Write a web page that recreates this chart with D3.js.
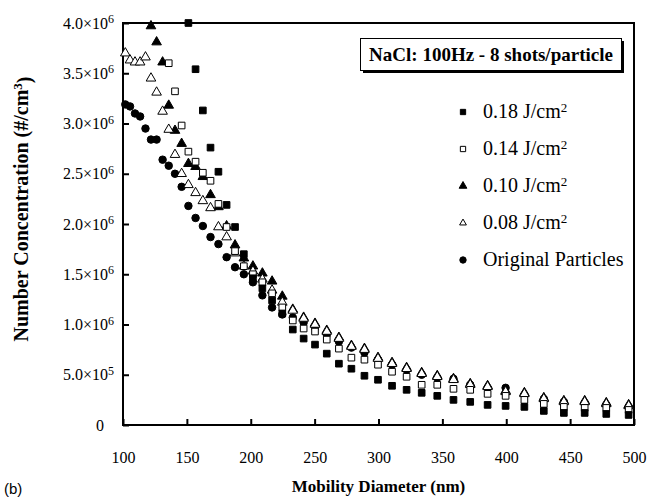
<!DOCTYPE html>
<html>
<head>
<meta charset="utf-8">
<script src="https://cdn.jsdelivr.net/npm/d3@7"></script>
<style>
  body { margin: 0; background: #fff; }
  svg { display: block; }
</style>
</head>
<body>
<svg id="chart" width="652" height="504"></svg>
<script>
// SMPS channel midpoints (nm)
const DIAMETERS = [
  101.8, 105.5, 109.4, 113.4, 117.6, 121.9, 126.3, 131.0, 135.8, 140.7,
  145.9, 151.2, 156.8, 162.5, 168.5, 174.7, 181.1, 187.7, 194.6, 201.7,
  209.1, 216.7, 224.7, 232.9, 241.4, 250.3, 259.5, 269.0, 278.8, 289.0,
  299.6, 310.6, 322.0, 333.8, 346.0, 358.7, 371.8, 385.4, 399.5, 414.2,
  429.4, 445.1, 461.4, 478.3, 495.8
]

// number concentration, x10^6 #/cm3 (null = off the top of the chart)
const ORIGINAL = [
  3.19, 3.17, 3.10, 3.07, 2.95, 2.84, 2.84, 2.64, 2.58, 2.50,
  2.37, 2.18, 2.06, 1.98, 1.87, 1.80, 1.67, 1.57, 1.50, 1.42,
  1.29, 1.17, 1.10, 1.07, 1.02, 0.97, 0.90, 0.83, 0.77, 0.72,
  0.65, 0.60, 0.55, 0.50, 0.47, 0.46, 0.40, 0.37, 0.37, 0.30,
  0.26, 0.23, 0.22, 0.20, 0.18
]
const F008 = [
  3.70, 3.63, 3.61, 3.61, 3.66, 3.45, 3.31, 3.12, 2.94, 2.69,
  2.50, 2.39, 2.31, 2.23, 2.16, 1.97, 1.87, 1.71, 1.58, 1.53,
  1.45, 1.34, 1.22, 1.14, 1.06, 1.00, 0.93, 0.86, 0.78, 0.75,
  0.66, 0.61, 0.56, 0.51, 0.48, 0.45, 0.40, 0.38, 0.33, 0.31,
  0.26, 0.23, 0.23, 0.21, 0.19
]
const F010 = [
  null, null, null, null, null, 3.97, 3.81, 3.61, 3.18, 2.93,
  2.80, 2.60, 2.57, 2.47, 2.29, 2.17, 1.98, 1.79, 1.66, 1.58,
  1.51, 1.43, 1.28, 1.15, 1.07, 1.01, 0.94, 0.87, 0.79, 0.76,
  0.67, 0.62, 0.57, 0.52, 0.49, 0.46, 0.41, 0.39, 0.34, 0.32,
  0.27, 0.24, 0.24, 0.22, 0.20
]
const F014 = [
  null, null, null, null, null, null, null, null, 3.60, 3.32,
  2.98, 2.72, 2.62, 2.51, 2.43, 2.20, 1.97, 1.73, 1.58, 1.50,
  1.42, 1.31, 1.17, 1.04, 0.96, 0.93, 0.85, 0.76, 0.67, 0.65,
  0.60, 0.53, 0.48, 0.40, 0.40, 0.36, 0.35, 0.31, 0.29, 0.25,
  0.21, 0.18, 0.17, 0.17, 0.15
]
const F018 = [
  null, null, null, null, null, null, null, null, null, null,
  null, 4.00, 3.54, 3.13, 2.76, 2.52, 2.19, 1.97, 1.70, 1.46,
  1.36, 1.24, 1.11, 0.95, 0.86, 0.80, 0.71, 0.61, 0.56, 0.49,
  0.45, 0.39, 0.35, 0.32, 0.29, 0.25, 0.23, 0.20, 0.19, 0.18,
  0.14, 0.12, 0.12, 0.11, 0.10
]

const X_TICKS = [100, 150, 200, 250, 300, 350, 400, 450, 500]
const Y_TICKS = [0, 0.5, 1, 1.5, 2, 2.5, 3, 3.5, 4]
const LEGEND_LABELS = ['0.18 J/cm', '0.14 J/cm', '0.10 J/cm', '0.08 J/cm', 'Original Particles']

const SERIF = "'Liberation Serif', 'Times New Roman', serif"

const SERIES = [
  { values: F018, shape: d3.symbolSquare, fill: '#000', size: 44, legendSize: 28 },
  { values: F014, shape: d3.symbolSquare, fill: '#fff', size: 44, legendSize: 28 },
  { values: F010, shape: d3.symbolTriangle, fill: '#000', size: 40, legendSize: 26 },
  { values: F008, shape: d3.symbolTriangle, fill: '#fff', size: 40, legendSize: 20 },
  { values: ORIGINAL, shape: d3.symbolCircle, fill: '#000', size: 44, legendSize: 32 }
]
SERIES.forEach((s, i) => { s.label = LEGEND_LABELS[i] })

const svg = d3.select('#chart')
  .attr('font-family', SERIF)

const x = d3.scaleLinear().domain([100, 500]).range([123, 634])
const y = d3.scaleLinear().domain([0, 4]).range([425, 23])

// x axis
svg.append('g')
  .attr('transform', `translate(0,${y(0)})`)
  .call(d3.axisBottom(x).tickValues(X_TICKS).tickSizeInner(-6).tickSizeOuter(0).tickPadding(27))
  .attr('font-family', SERIF)
  .attr('font-size', 16)
  .call(g => g.select('.domain').remove())
  .call(g => g.selectAll('.tick line').attr('stroke-width', 2))

// y axis, labels like 3.5x10^6
svg.append('g')
  .attr('transform', `translate(${x(100)},0)`)
  .call(d3.axisLeft(y).tickValues(Y_TICKS).tickSizeInner(-6).tickSizeOuter(0).tickPadding(19))
  .attr('font-family', SERIF)
  .attr('font-size', 16)
  .call(g => g.select('.domain').remove())
  .call(g => g.selectAll('.tick line').attr('stroke-width', 2))
  .call(g => g.selectAll('.tick text').each(function (v) {
    const t = d3.select(this).text(null)
    if (v === 0) { t.text('0'); return }
    const [m, e] = v < 1 ? [v * 10, 5] : [v, 6]
    t.attr('x', -9)
    t.append('tspan').text(`${m.toFixed(1)}×10`)
    t.append('tspan').attr('dy', '-0.45em').attr('font-size', 12).text(e)
  }))

// frame
svg.append('rect')
  .attr('x', x(100)).attr('y', y(4))
  .attr('width', x(500) - x(100)).attr('height', y(0) - y(4))
  .attr('fill', 'none').attr('stroke', '#000').attr('stroke-width', 2)

// markers, original particles drawn first so the others sit on top
const drawOrder = [4, 2, 3, 1, 0]
drawOrder.forEach(i => {
  const s = SERIES[i]
  const pts = DIAMETERS.map((d, k) => [d, s.values[k]]).filter(p => p[1] != null)
  svg.append('g')
    .selectAll('path')
    .data(pts)
    .join('path')
    .attr('transform', p => `translate(${x(p[0])},${y(p[1])})`)
    .attr('d', d3.symbol(s.shape, s.size))
    .attr('fill', s.fill)
    .attr('stroke', '#000')
    .attr('stroke-width', 1)
})

// title box with shadow
const box = svg.append('g')
box.append('rect').attr('x', 363).attr('y', 41).attr('width', 261).attr('height', 32).attr('fill', '#000')
box.append('rect').attr('x', 360.5).attr('y', 38.5).attr('width', 261).attr('height', 32)
  .attr('fill', '#fff').attr('stroke', '#000')
box.append('text')
  .attr('x', 491).attr('y', 61)
  .attr('text-anchor', 'middle')
  .attr('font-weight', 'bold')
  .attr('font-size', 19)
  .text('NaCl: 100Hz - 8 shots/particle')

// legend
const legend = svg.append('g')
SERIES.forEach((s, i) => {
  const ly = 112 + i * 37
  legend.append('path')
    .attr('transform', `translate(463,${ly})`)
    .attr('d', d3.symbol(s.shape, s.legendSize))
    .attr('fill', s.fill)
    .attr('stroke', '#000')
  const t = legend.append('text')
    .attr('x', 483).attr('y', ly + 6)
    .attr('font-size', 20)
  t.append('tspan').text(s.label)
  if (i < 4) t.append('tspan').attr('dy', '-0.5em').attr('font-size', 13).text('2')
})

// axis titles
const yt = svg.append('text')
  .attr('transform', `translate(28,209) rotate(-90)`)
  .attr('text-anchor', 'middle')
  .attr('font-weight', 'bold')
  .attr('font-size', 20)
yt.append('tspan').text('Number Concentration (#/cm')
yt.append('tspan').attr('dy', '-0.45em').attr('font-size', 13).text('3')
yt.append('tspan').attr('dy', '0.45em').text(')')

svg.append('text')
  .attr('x', (x(100) + x(500)) / 2).attr('y', 492)
  .attr('text-anchor', 'middle')
  .attr('font-weight', 'bold')
  .attr('font-size', 17)
  .text('Mobility Diameter (nm)')

svg.append('text')
  .attr('x', 4).attr('y', 494)
  .attr('font-family', "'Liberation Sans', Arial, sans-serif")
  .attr('font-size', 15)
  .text('(b)')
</script>
</body>
</html>
